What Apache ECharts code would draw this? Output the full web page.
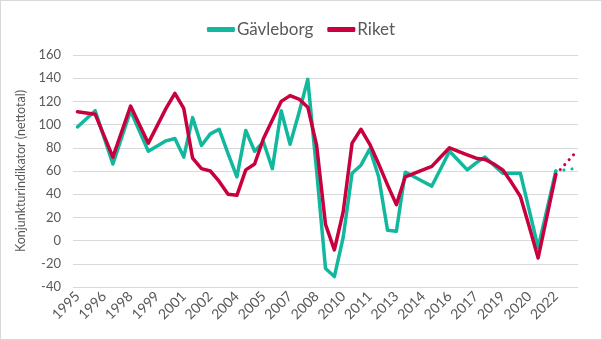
<!DOCTYPE html>
<html>
<head>
<meta charset="utf-8">
<script src="https://cdn.jsdelivr.net/npm/echarts@6/dist/echarts.min.js"></script>
<style>
html,body{margin:0;padding:0;background:#fff;}
#c{width:602px;height:340px;box-sizing:border-box;border:1px solid #d9d9d9;}
</style>
</head>
<body>
<div id="c"></div>
<script>
// Half-year categories (labelled by year), 1995 H1 .. 2023 H1
const categories = [
 '1995','1995','1996','1996','1997','1997','1998','1998','1999','1999',
 '2000','2000','2001','2001','2002','2002','2003','2003','2004','2004',
 '2005','2005','2006','2006','2007','2007','2008','2008','2009','2009',
 '2010','2010','2011','2011','2012','2012','2013','2013','2014','2014',
 '2015','2015','2016','2016','2017','2017','2018','2018','2019','2019',
 '2020','2020','2021','2021','2022','2022','2023'
];
const gavleborg = [
 98,null,112,null,66,null,112,null,77,null,
 86,88,72,106,82,92,96,75,55,95,
 77,85,62,112,83,110,139,60,-24,-31,
 3,58,65,79,55,9,8,59,55,51,
 47,62,77,69,61,67,72,65,58,58,
 58,26,-6,27,60,null,null
];
const riket = [
 111,null,109,null,72,null,116,null,84,null,
 114,127,114,71,62,60,51,40,39,61,
 66,88,104,120,125,122,115,82,14,-8,
 25,84,96,83,66,48,31,55,58,61,
 64,72,80,77,74,71,70,66,61,50,
 38,12,-15,21,57,null,null
];
// Forecast (dotted) continuation
const gavleborgPrognos = categories.map(() => null);
gavleborgPrognos[54] = 60; gavleborgPrognos[56] = 62;
const riketPrognos = categories.map(() => null);
riketPrognos[54] = 57; riketPrognos[56] = 74;

const yTicks = {min: -40, max: 160, interval: 20};
const TEAL = '#12B89E';
const RED = '#C8003E';
const FONT = 'Lato';

const chart = echarts.init(document.getElementById('c'), null, {renderer: 'canvas'});
chart.setOption({
  animation: false,
  textStyle: {fontFamily: FONT},
  legend: {
    data: ['Gävleborg', 'Riket'],
    top: 15,
    left: 'center',
    icon: 'roundRect',
    itemWidth: 28,
    itemHeight: 5,
    itemGap: 14,
    textStyle: {color: '#595959', fontSize: 17, fontFamily: FONT, padding: [0, 0, 0, -3]}
  },
  grid: {left: 72, right: 23, top: 54, bottom: 52, containLabel: false},
  xAxis: {
    type: 'category',
    data: categories,
    boundaryGap: true,
    axisLine: {show: false},
    axisTick: {show: false},
    axisLabel: {
      interval: 2,
      rotate: 45,
      color: '#595959',
      fontSize: 14,
      fontFamily: FONT,
      margin: 7
    },
    splitLine: {show: false}
  },
  yAxis: {
    type: 'value',
    min: yTicks.min,
    max: yTicks.max,
    interval: yTicks.interval,
    name: 'Konjunkturindikator (nettotal)',
    nameLocation: 'middle',
    nameGap: 40,
    nameTextStyle: {color: '#595959', fontSize: 12.5, fontFamily: FONT},
    axisLine: {show: false},
    axisTick: {show: false},
    axisLabel: {color: '#595959', fontSize: 13, fontFamily: FONT, margin: 12},
    splitLine: {lineStyle: {color: '#d9d9d9', width: 1}}
  },
  series: [
    {
      name: 'Gävleborg', type: 'line', data: gavleborg, connectNulls: true,
      showSymbol: false, symbol: 'none',
      lineStyle: {color: TEAL, width: 3.5, join: 'round', cap: 'round'},
      itemStyle: {color: TEAL}, z: 2
    },
    {
      name: 'Riket', type: 'line', data: riket, connectNulls: true,
      showSymbol: false, symbol: 'none',
      lineStyle: {color: RED, width: 3.5, join: 'round', cap: 'round'},
      itemStyle: {color: RED}, z: 3
    },
    {
      name: 'Gävleborg prognos', type: 'line', data: gavleborgPrognos, connectNulls: true,
      showSymbol: false, symbol: 'none',
      lineStyle: {color: TEAL, width: 3, type: [0.1, 8], cap: 'round'},
      z: 2
    },
    {
      name: 'Riket prognos', type: 'line', data: riketPrognos, connectNulls: true,
      showSymbol: false, symbol: 'none',
      lineStyle: {color: RED, width: 3, type: [0.1, 6.5], cap: 'round'},
      z: 3
    }
  ]
});
</script>
</body>
</html>
